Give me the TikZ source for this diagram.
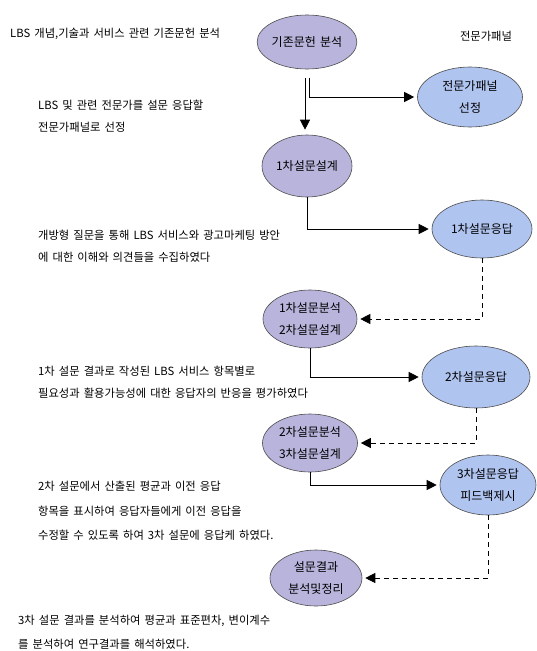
\documentclass[tikz,border=0pt]{standalone}
\usepackage{fontspec}
\setmainfont{Noto Sans CJK KR}[WordSpace=1.6]
\usetikzlibrary{shapes.geometric,arrows.meta,calc}
\definecolor{purpfill}{HTML}{B8B4DC}
\definecolor{bluefill}{HTML}{B0C4F0}
\begin{document}
\begin{tikzpicture}[x=1pt,y=-1pt,
  ell/.style={ellipse,draw=black!70,line width=0.6pt,inner sep=0pt,align=center,font=\fontsize{12}{22}\selectfont},
  purp/.style={ell,fill=purpfill},
  blu/.style={ell,fill=bluefill},
  arr/.style={line width=0.8pt,-{Triangle[length=10pt,width=10pt]},shorten >=3pt},
  dasharr/.style={arr,dashed,dash pattern=on 5pt off 4pt},
  note/.style={anchor=west,inner sep=0pt,font=\fontsize{11.3}{22}\selectfont,align=left}]
\useasboundingbox (0,0) rectangle (537,651);
\fill[white] (0,0) rectangle (537,651);
% nodes
\node[purp,minimum width=97pt,minimum height=54pt] (a) at (307,42) {기존문헌 분석};
\node[blu,minimum width=105pt,minimum height=60pt] (p) at (470,97) {전문가패널\\선정};
\node[purp,minimum width=90pt,minimum height=62pt] (b) at (307,166) {1차설문설계};
\node[blu,minimum width=100pt,minimum height=58pt] (r1) at (482,229) {1차설문응답};
\node[purp,minimum width=94pt,minimum height=58pt] (c) at (310,319) {1차설문분석\\2차설문설계};
\node[blu,minimum width=108pt,minimum height=62pt] (r2) at (476,377) {2차설문응답};
\node[purp,minimum width=95pt,minimum height=58pt] (d) at (310,443) {2차설문분석\\3차설문설계};
\node[blu,minimum width=96pt,minimum height=60pt] (r3) at (488,485) {3차설문응답\\피드백제시};
\node[purp,minimum width=92pt,minimum height=56pt] (e) at (316,578) {설문결과\\분석및정리};
\node[note,anchor=center] (hdr) at (486,36) {전문가패널};
% connectors
\coordinate (s1) at ($(a.south)+(-2,9)$);
\coordinate (s2) at ($(a.south)+(2,9)$);
\draw[arr,shorten >=5pt] (s1) -- (s1 |- b.north);
\draw[arr] (s2) |- (p.west);
\draw[arr] (b.south) |- (r1.west);
\draw[dasharr] (r1.south) |- (c.east);
\draw[arr] (c.south) |- (r2.west);
\draw[dasharr] (r2.south) |- (d.east);
\draw[arr] (d.south) |- (r3.west);
\draw[dasharr] (r3.south) |- (e.east);
% notes
\node[note] (t1) at (10,34) {LBS 개념,기술과 서비스 관련 기존문헌 분석};
\node[note] (t2) at (38,116) {LBS 및 관련 전문가를 설문 응답할\\전문가패널로 선정};
\node[note] (t3) at (38,246) {개방형 질문을 통해 LBS 서비스와 광고마케팅 방안\\에 대한 이해와 의견들을 수집하였다};
\node[note] (t4) at (38,382) {1차 설문 결과로 작성된 LBS 서비스 항목별로\\필요성과 활용가능성에 대한 응답자의 반응을 평가하였다};
\node[note,font=\fontsize{11.3}{24.5}\selectfont] (t5) at (38,511) {2차 설문에서 산출된 평균과 이전 응답\\항목을 표시하여 응답자들에게 이전 응답을\\수정할 수 있도록 하여 3차 설문에 응답케 하였다.};
\node[note,font=\fontsize{11.3}{24}\selectfont] (t6) at (18,632) {3차 설문 결과를 분석하여 평균과 표준편차, 변이계수\\를 분석하여 연구결과를 해석하였다.};
\end{tikzpicture}
\end{document}
